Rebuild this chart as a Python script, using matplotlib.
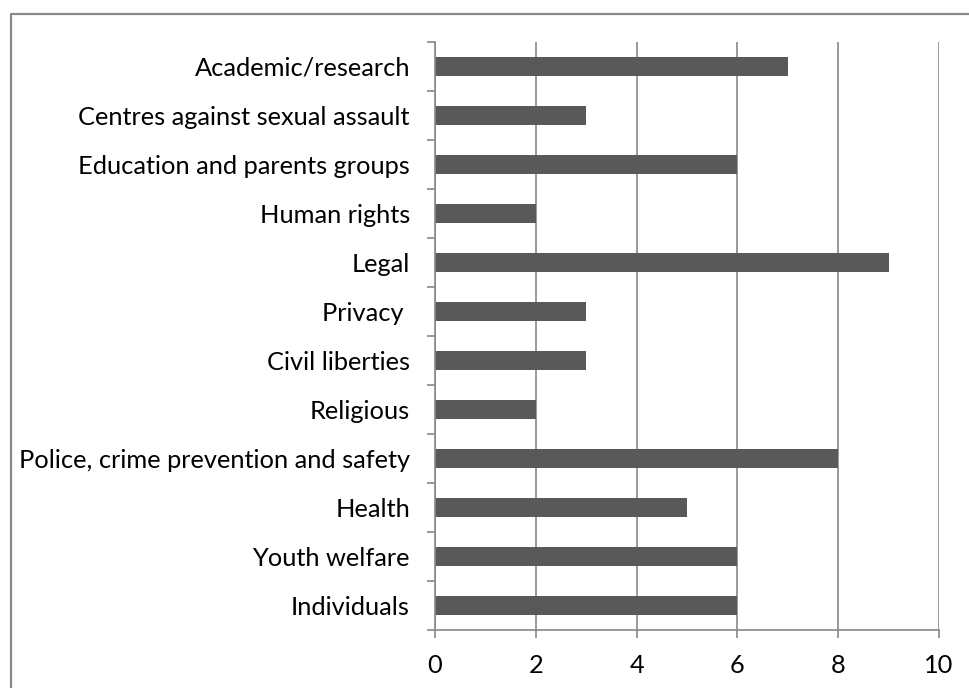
import matplotlib.pyplot as plt
from matplotlib.lines import Line2D
import numpy as np

categories = ['Individuals', 'Youth welfare', 'Health', 'Police, crime prevention and safety',
              'Religious', 'Civil liberties', 'Privacy ', 'Legal', 'Human rights',
              'Education and parents groups', 'Centres against sexual assault', 'Academic/research']
values = [6, 6, 5, 8, 2, 3, 3, 9, 2, 6, 3, 7]
xticks = [0, 2, 4, 6, 8, 10]

plt.rcParams['font.family'] = ['Lato', 'DejaVu Sans']
gray = '#888888'

fig = plt.figure(figsize=(9.7, 6.88), dpi=100)
ax = fig.add_axes([435/970, 1 - 630/688, 504/970, 588/688])

pos = np.arange(len(categories))
ax.barh(pos, values, height=0.39, color='#595959', zorder=3)

ax.set_xlim(0, 10)
ax.set_ylim(-0.5, len(categories) - 0.5)
ax.set_xticks(xticks)
ax.set_xticklabels([str(t) for t in xticks], fontsize=18.3)
ax.set_yticks(pos)
ax.set_yticklabels(categories, fontsize=18.3)
ax.set_yticks(np.arange(-0.5, len(categories)), minor=True)

ax.tick_params(axis='y', which='major', length=0, pad=18)
ax.tick_params(axis='y', which='minor', length=6, width=1.2, color=gray, direction='out')
ax.tick_params(axis='x', length=6, width=1.2, color=gray, pad=11)

ax.grid(axis='x', color=gray, linewidth=1.2, zorder=0)
for s in ['top', 'right']:
    ax.spines[s].set_visible(False)
for s in ['left', 'bottom']:
    ax.spines[s].set_color(gray)
    ax.spines[s].set_linewidth(1.2)
    ax.spines[s].set_zorder(4)

# outer chart border (left and top only visible)
fig.add_artist(Line2D([11/970, 11/970, 1], [0, 1 - 14/688, 1 - 14/688],
                      color='#8a8a8a', linewidth=1.6, transform=fig.transFigure))

fig.savefig('out.png', dpi=100)
